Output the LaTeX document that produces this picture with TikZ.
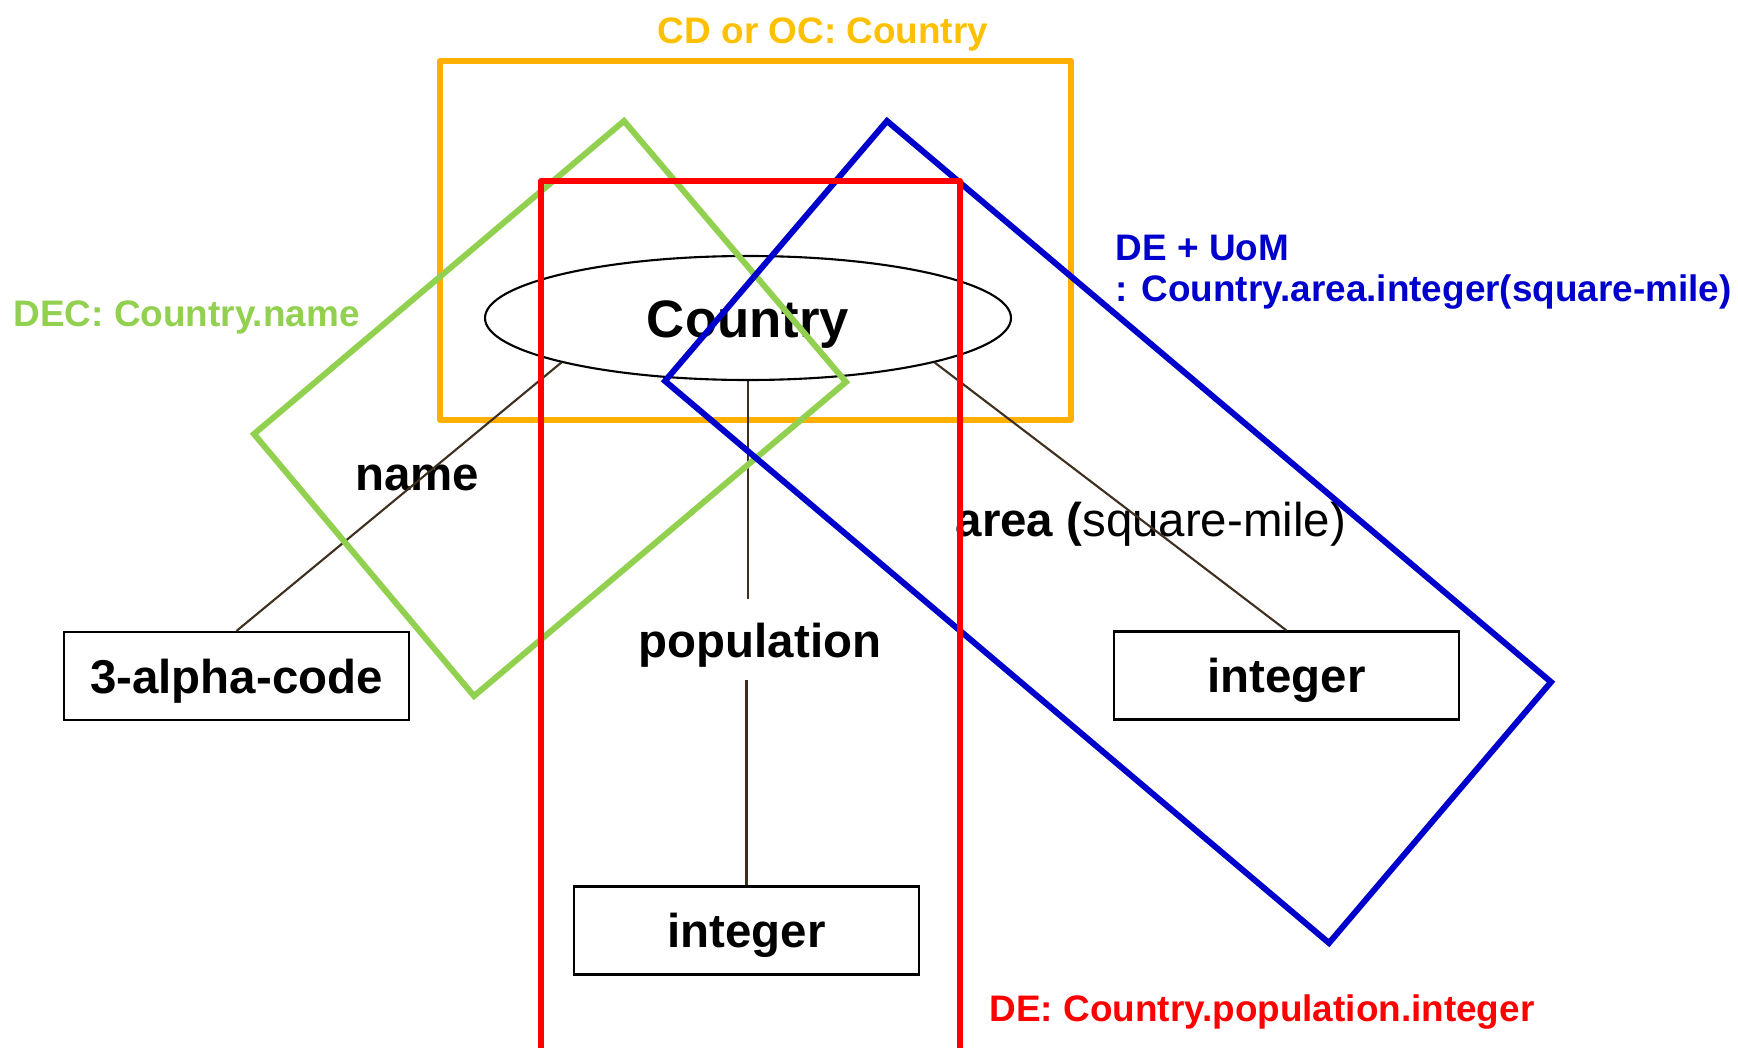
\documentclass[tikz,border=0pt]{standalone}
\usepackage{fontspec}
\setmainfont{Liberation Sans}
\usepackage{xcolor}
\usetikzlibrary{shapes.geometric}

\definecolor{cdorange}{HTML}{FFAF00}
\definecolor{cdgold}{HTML}{FFC000}
\definecolor{decgreen}{HTML}{92D050}
\definecolor{deblue}{HTML}{0000CC}
\definecolor{dered}{HTML}{FF0000}
\definecolor{linkbrown}{HTML}{3F2F1F}

\begin{document}
\begin{tikzpicture}[
	big/.style={font=\fontsize{13.5}{16}\selectfont\bfseries},
	tag/.style={font=\fontsize{10.5}{13}\selectfont\bfseries},
	valuebox/.style={draw, line width=0.6pt, minimum width=3.45cm, minimum height=0.88cm, inner sep=0pt, text height=0.44cm, text depth=0.1cm, big},
	link/.style={draw=linkbrown, line width=0.6pt},
	frame/.style={line width=1.7pt, line join=round}
]

\useasboundingbox (0,0) rectangle (17.38,-10.48);

% CD or OC
\draw[frame, draw=cdorange] (4.40,-0.61) rectangle (10.71,-4.20);
\node[tag, text=cdgold] (cdtag) at (8.23,-0.34) {CD or OC: Country};

% object class and its properties
\node[draw, ellipse, line width=0.6pt, minimum width=5.26cm, minimum height=1.24cm, inner sep=0pt] (country) at (7.48,-3.18) {};
\node[font=\fontsize{15}{18}\selectfont\bfseries] (countrytext) at (7.48,-3.245) {Country};

\node[valuebox] (code) at ( 2.365,-6.76) {3-alpha-code};
\node[valuebox] (intA) at (12.865,-6.755) {integer};
\node[valuebox] (intP) at ( 7.465,-9.305) {integer};

\node[big] (name) at (4.17,-4.775) {name};
\node[big, anchor=west, inner sep=0pt] (area) at (9.55,-5.245) {area (\mdseries square-mile)};
\node[big, inner sep=0pt, minimum height=0.79cm, text height=0.45cm, text depth=0.1cm] (pop) at (7.60,-6.395) {population};

\draw[link] (country.south west)--(code.north);
\draw[link] (country.south east)--(intA.north);
\draw[link] (country.south)--(country.south |- pop.north);
\draw[link] (intP.north |- pop.south)--(intP.north);

% DEC
\draw[frame, line join=miter, draw=decgreen] (6.24,-1.21)--(8.46,-3.82)--(4.74,-6.96)--(2.54,-4.34)--cycle;
\node[tag, text=decgreen, anchor=west, inner sep=0pt] (dectag) at (0.13,-3.175) {DEC: Country.name};

% DE + UoM
\draw[frame, line join=miter, draw=deblue] (8.87,-1.21)--(15.51,-6.82)--(13.29,-9.43)--(6.65,-3.81)--cycle;
\node[tag, text=deblue, anchor=west, inner sep=0pt] (uomtag) at (11.15,-2.475) {DE + UoM};
\node[tag, text=deblue, anchor=west, inner sep=0pt] (uomtag2) at (11.15,-2.925) {: Country.area.integer(square-mile)};

% DE
\draw[frame, draw=dered] (5.41,-10.48)--(5.41,-1.81)--(9.60,-1.81)--(9.60,-10.48);
\node[tag, text=dered, anchor=west, inner sep=0pt] (detag) at (9.89,-10.12) {DE: Country.population.integer};

\end{tikzpicture}
\end{document}
